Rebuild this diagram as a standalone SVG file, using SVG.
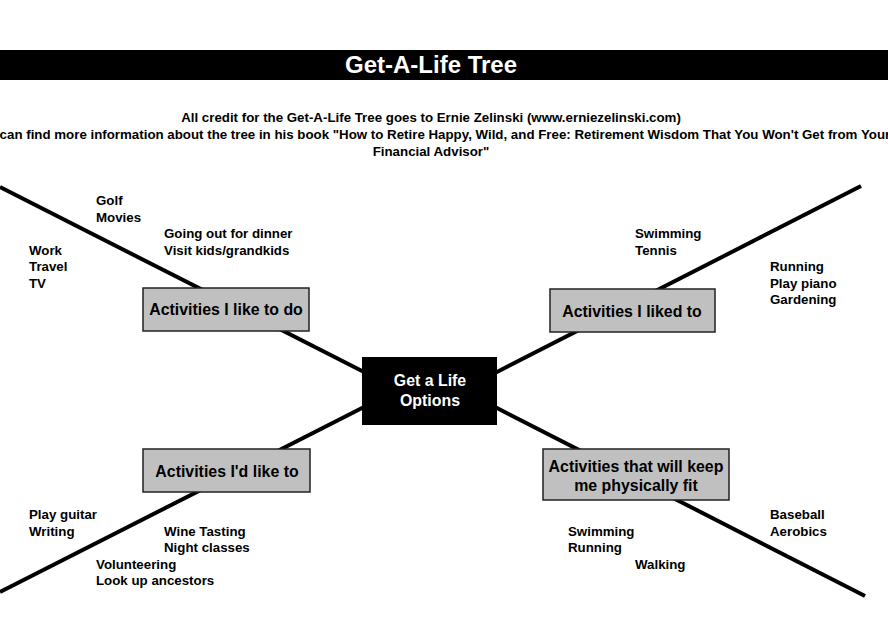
<svg xmlns="http://www.w3.org/2000/svg" width="888" height="621" viewBox="0 0 888 621">
<style>
text{font-family:"Liberation Sans",Arial,sans-serif;font-weight:bold;}
.leaf{font-size:13.3px;fill:#000;}
.sub{font-size:13.3px;fill:#000;text-anchor:middle;}
.lbl{font-size:15.9px;fill:#000;text-anchor:middle;}
.box{fill:#c0c0c0;stroke:#222;stroke-width:1.5;}
.conn{stroke:#000;stroke-width:4;fill:none;}
</style>
<rect width="888" height="621" fill="#fff"/>
<g id="title">
<rect x="0" y="50" width="888" height="30" fill="#000"/>
<text x="431" y="73" font-size="24" fill="#fff" text-anchor="middle">Get-A-Life Tree</text>
</g>
<g id="subtitle">
<text class="sub" x="431" y="122">All credit for the Get-A-Life Tree goes to Ernie Zelinski (www.erniezelinski.com)</text>
<text class="sub" x="431" y="139">You can find more information about the tree in his book "How to Retire Happy, Wild, and Free: Retirement Wisdom That You Won't Get from Your</text>
<text class="sub" x="431" y="156">Financial Advisor"</text>
</g>
<g id="connectors">
<line class="conn" x1="0" y1="187" x2="364" y2="372"/>
<line class="conn" x1="861" y1="186" x2="495" y2="373"/>
<line class="conn" x1="0" y1="592" x2="364" y2="407"/>
<line class="conn" x1="865" y1="596" x2="495" y2="407"/>
</g>
<g id="center">
<rect x="362" y="357" width="135" height="68" fill="#000"/>
<text class="lbl" x="430" y="386" style="fill:#fff">Get a Life</text>
<text class="lbl" x="430" y="406" style="fill:#fff">Options</text>
</g>
<g id="like-to-do">
<rect class="box" x="143" y="288" width="166" height="43"/>
<text class="lbl" x="226" y="315">Activities I like to do</text>
</g>
<g id="liked-to">
<rect class="box" x="550" y="289" width="165" height="43"/>
<text class="lbl" x="632" y="317">Activities I liked to</text>
</g>
<g id="would-like-to">
<rect class="box" x="143" y="449" width="167" height="43"/>
<text class="lbl" x="227" y="477">Activities I'd like to</text>
</g>
<g id="physically-fit">
<rect class="box" x="543" y="449" width="186" height="51"/>
<text class="lbl" x="636" y="472">Activities that will keep</text>
<text class="lbl" x="636" y="491">me physically fit</text>
</g>
<g id="leaves-upper-left">
<text class="leaf" x="96" y="205">Golf</text>
<text class="leaf" x="96" y="222">Movies</text>
<text class="leaf" x="164" y="238">Going out for dinner</text>
<text class="leaf" x="164" y="255">Visit kids/grandkids</text>
<text class="leaf" x="29" y="255">Work</text>
<text class="leaf" x="29" y="271">Travel</text>
<text class="leaf" x="29" y="288">TV</text>
</g>
<g id="leaves-upper-right">
<text class="leaf" x="635" y="238">Swimming</text>
<text class="leaf" x="635" y="255">Tennis</text>
<text class="leaf" x="770" y="271">Running</text>
<text class="leaf" x="770" y="288">Play piano</text>
<text class="leaf" x="770" y="304">Gardening</text>
</g>
<g id="leaves-lower-left">
<text class="leaf" x="29" y="519">Play guitar</text>
<text class="leaf" x="29" y="536">Writing</text>
<text class="leaf" x="164" y="536">Wine Tasting</text>
<text class="leaf" x="164" y="552">Night classes</text>
<text class="leaf" x="96" y="569">Volunteering</text>
<text class="leaf" x="96" y="585">Look up ancestors</text>
</g>
<g id="leaves-lower-right">
<text class="leaf" x="568" y="536">Swimming</text>
<text class="leaf" x="568" y="552">Running</text>
<text class="leaf" x="635" y="569">Walking</text>
<text class="leaf" x="770" y="519">Baseball</text>
<text class="leaf" x="770" y="536">Aerobics</text>
</g>
</svg>
